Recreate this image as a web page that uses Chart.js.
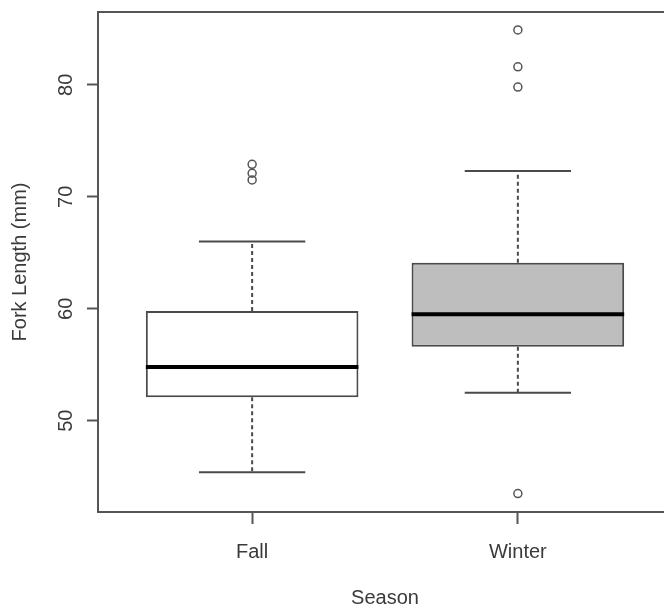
<!DOCTYPE html>
<html>
<head>
<meta charset="utf-8">
<style>
  html, body { margin: 0; padding: 0; background: #ffffff; overflow: hidden; }
  canvas { display: block; }
</style>
<script src="https://cdn.jsdelivr.net/npm/chart.js@4/dist/chart.umd.min.js"></script>
</head>
<body>
<canvas id="c" width="700" height="609"></canvas>
<script>
// Fork length by season: five-number summaries plus outlying fish
const seasons = ['Fall', 'Winter'];
const lowerWhisker = [45.4, 52.5];
const q1 = [52.1, 56.6];
const median = [54.8, 59.5];
const q3 = [59.8, 64.1];
const upperWhisker = [66.0, 72.3];
const outliers = [
  [71.5, 72.1, 72.9],
  [43.5, 79.8, 81.6, 84.9]
];
const yTicks = [50, 60, 70, 80];
const boxFills = ['#ffffff', '#bebebe'];

// Box and staple widths in category units (as in R's boxplot)
const boxHalf = 0.4;
const capHalf = 0.2;

const ink = '#4a4a4a';
const frame = '#555555';
const textColor = '#3a3a3a';
const fontFamily = '"Liberation Sans", Arial, sans-serif';
const fontSize = 20;

const datasets = [];

// Boxes: floating bars from Q1 to Q3
datasets.push({
  type: 'bar',
  data: seasons.map((s, i) => ({ x: i + 1, y: [q1[i], q3[i]] })),
  backgroundColor: boxFills,
  borderColor: ink,
  borderWidth: 2,
  borderSkipped: false,
  barPercentage: 2 * boxHalf,
  categoryPercentage: 1,
  order: 3
});

seasons.forEach((s, i) => {
  const x = i + 1;
  // median bar
  datasets.push({
    type: 'line',
    data: [{ x: x - boxHalf, y: median[i] }, { x: x + boxHalf, y: median[i] }],
    borderColor: '#000000', borderWidth: 4, pointRadius: 0, order: 1
  });
  // dashed whiskers
  datasets.push({
    type: 'line',
    data: [{ x: x, y: q3[i] }, { x: x, y: upperWhisker[i] }],
    borderColor: ink, borderWidth: 2, borderDash: [4, 3], pointRadius: 0, order: 2
  });
  datasets.push({
    type: 'line',
    data: [{ x: x, y: q1[i] }, { x: x, y: lowerWhisker[i] }],
    borderColor: ink, borderWidth: 2, borderDash: [4, 3], pointRadius: 0, order: 2
  });
  // staples
  datasets.push({
    type: 'line',
    data: [{ x: x - capHalf, y: upperWhisker[i] }, { x: x + capHalf, y: upperWhisker[i] }],
    borderColor: ink, borderWidth: 2, pointRadius: 0, order: 2
  });
  datasets.push({
    type: 'line',
    data: [{ x: x - capHalf, y: lowerWhisker[i] }, { x: x + capHalf, y: lowerWhisker[i] }],
    borderColor: ink, borderWidth: 2, pointRadius: 0, order: 2
  });
  // outlying points
  datasets.push({
    type: 'scatter',
    data: outliers[i].map(v => ({ x: x, y: v })),
    pointStyle: 'circle',
    pointRadius: 4,
    borderColor: '#555555',
    borderWidth: 1.5,
    backgroundColor: 'rgba(255,255,255,0)',
    order: 0
  });
});

new Chart(document.getElementById('c'), {
  type: 'bar',
  data: { datasets },
  options: {
    responsive: false,
    devicePixelRatio: 1,
    animation: false,
    layout: { padding: { top: 0, right: 28, bottom: 0, left: 0 } },
    plugins: { legend: { display: false }, tooltip: { enabled: false } },
    scales: {
      x: {
        type: 'linear',
        position: 'bottom',
        offset: false,
        min: 0.42,
        max: 2.58,
        afterBuildTicks: (scale) => { scale.ticks = seasons.map((s, i) => ({ value: i + 1 })); },
        afterFit: (scale) => { scale.height = 97; },
        ticks: {
          callback: (v) => seasons[v - 1],
          font: { family: fontFamily, size: fontSize },
          color: textColor,
          padding: 16,
          maxRotation: 0,
          minRotation: 0
        },
        grid: { offset: false, drawOnChartArea: false, drawTicks: true, tickLength: 12, tickWidth: 2, tickColor: frame },
        border: { display: true, color: frame, width: 2 },
        title: {
          display: true,
          text: 'Season',
          font: { family: fontFamily, size: fontSize, lineHeight: 1.1 },
          color: textColor,
          padding: { top: 0, bottom: 0 }
        }
      },
      xTop: {
        type: 'linear',
        position: 'top',
        offset: false,
        afterFit: (scale) => { scale.height = 12; },
        ticks: { display: false },
        grid: { offset: false, drawOnChartArea: false, drawTicks: false },
        border: { display: true, color: frame, width: 2 }
      },
      y: {
        type: 'linear',
        position: 'left',
        min: 41.85,
        max: 86.5,
        afterBuildTicks: (scale) => { scale.ticks = yTicks.map(v => ({ value: v })); },
        afterFit: (scale) => {
          scale.width = 98;
          scale.paddingTop = 0;
          scale.paddingBottom = 0;
        },
        ticks: {
          font: { family: fontFamily, size: fontSize },
          color: textColor,
          minRotation: 90,
          maxRotation: 90,
          crossAlign: 'center',
          padding: 9
        },
        grid: { drawOnChartArea: false, drawTicks: true, tickLength: 11, tickWidth: 2, tickColor: frame },
        border: { display: true, color: frame, width: 2 },
        title: {
          display: true,
          text: 'Fork Length (mm)',
          font: { family: fontFamily, size: fontSize },
          color: textColor,
          padding: { top: 8, bottom: 0 }
        }
      }
    }
  }
});
</script>
</body>
</html>
